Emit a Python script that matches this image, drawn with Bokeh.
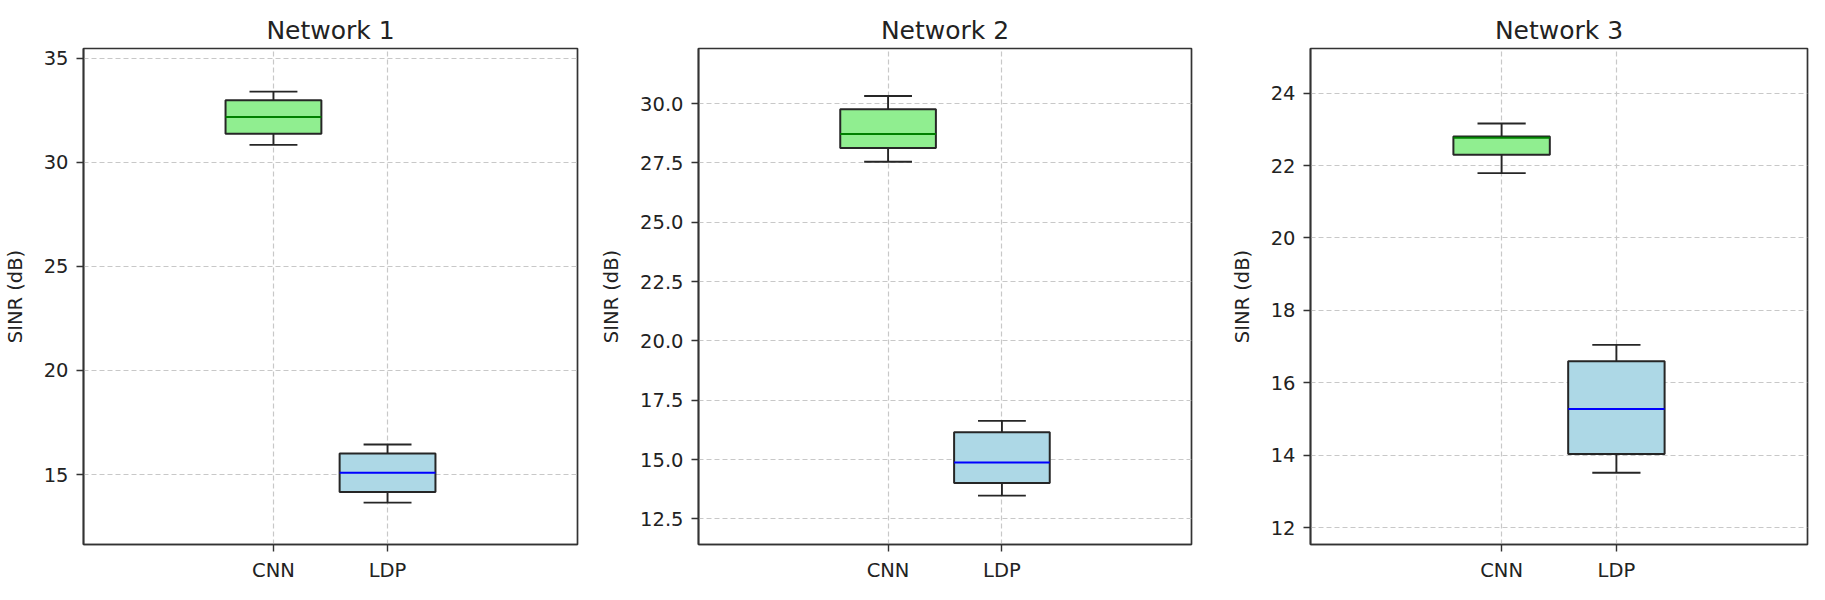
from bokeh.plotting import figure
from bokeh.layouts import row
from bokeh.models import ColumnDataSource, FixedTicker, PrintfTickFormatter, Range1d
from bokeh.embed import file_html
from bokeh.resources import INLINE

# ---------------- data ----------------
categories = ["CNN", "LDP"]
titles = ["Network 1", "Network 2", "Network 3"]

# five-number summaries per network: [CNN, LDP]
net1_lower = [30.83, 13.65]
net1_q1 = [31.36, 14.16]
net1_median = [32.17, 15.09]
net1_q3 = [32.97, 16.01]
net1_upper = [33.39, 16.44]

net2_lower = [27.55, 13.48]
net2_q1 = [28.13, 14.01]
net2_median = [28.72, 14.87]
net2_q3 = [29.76, 16.15]
net2_upper = [30.32, 16.63]

net3_lower = [21.79, 13.52]
net3_q1 = [22.30, 14.04]
net3_median = [22.77, 15.28]
net3_q3 = [22.80, 16.60]
net3_upper = [23.16, 17.05]

y_ticks_1 = [15, 20, 25, 30, 35]
y_ticks_2 = [12.5, 15.0, 17.5, 20.0, 22.5, 25.0, 27.5, 30.0]
y_ticks_3 = [12, 14, 16, 18, 20, 22, 24]

y_range_1 = (11.64, 35.46)
y_range_2 = (11.42, 32.32)
y_range_3 = (11.54, 25.23)

# ---------------- style ----------------
FONT = "DejaVu Sans"
TXT = "#222222"
BOX_FILL = ["#90EE90", "#ADD8E6"]
MED_COL = ["#008000", "#0000FF"]
EDGE = "#262626"
BOX_W = 0.84
positions = [1, 2]

panels = [
    (titles[0], net1_lower, net1_q1, net1_median, net1_q3, net1_upper, y_ticks_1, y_range_1, "%d"),
    (titles[1], net2_lower, net2_q1, net2_median, net2_q3, net2_upper, y_ticks_2, y_range_2, "%.1f"),
    (titles[2], net3_lower, net3_q1, net3_median, net3_q3, net3_upper, y_ticks_3, y_range_3, "%d"),
]

borders = [(80, 20), (97, 20), (99, 2)]
FRAME_W = 497
FRAME_H = 500
TOP = 48
BOTTOM = 36

figs = []
for i, (title, lo, q1, med, q3, up, yt, yr, fmt) in enumerate(panels):
    bl, br = borders[i]
    p = figure(
        width=bl + FRAME_W + br,
        height=TOP + FRAME_H + BOTTOM,
        x_range=Range1d(-0.665, 3.665),
        y_range=Range1d(*yr),
        output_backend="svg",
        toolbar_location=None,
        min_border_left=bl,
        min_border_right=br,
        min_border_top=TOP,
        min_border_bottom=BOTTOM,
        title=title,
    )
    p.title.text_font = FONT
    p.title.text_font_size = "25px"
    p.title.text_font_style = "normal"
    p.title.text_color = TXT
    p.title.align = "center"
    p.title.standoff = 7

    p.outline_line_color = "#333333"
    p.outline_line_width = 1.7
    p.background_fill_color = "white"
    p.border_fill_color = "white"

    # axes
    p.xaxis.ticker = FixedTicker(ticks=positions)
    p.xaxis.major_label_overrides = {pos: c for pos, c in zip(positions, categories)}
    p.yaxis.ticker = FixedTicker(ticks=yt)
    p.yaxis.formatter = PrintfTickFormatter(format=fmt)
    p.yaxis.axis_label = "SINR (dB)"
    for ax in (p.xaxis[0], p.yaxis[0]):
        ax.axis_line_color = "#333333"
        ax.axis_line_width = 1.7
        ax.major_tick_line_color = "#333333"
        ax.major_tick_line_width = 1.4
        ax.major_tick_out = 7
        ax.major_tick_in = 0
        ax.minor_tick_line_color = None
        ax.major_label_text_font = FONT
        ax.major_label_text_font_size = "19.5px"
        ax.major_label_text_color = TXT
        ax.axis_label_text_font = FONT
        ax.axis_label_text_font_size = "19.5px"
        ax.axis_label_text_font_style = "normal"
        ax.axis_label_text_color = TXT
    p.xaxis.major_label_standoff = 7
    p.yaxis.major_label_standoff = 8
    p.yaxis.axis_label_standoff = 14

    # grid
    p.xgrid.ticker = FixedTicker(ticks=positions)
    p.ygrid.ticker = FixedTicker(ticks=yt)
    for g in (p.xgrid[0], p.ygrid[0]):
        g.grid_line_color = "#c8c8c8"
        g.grid_line_width = 1.2
        g.grid_line_dash = "5 3"

    half = BOX_W / 2
    src = ColumnDataSource(dict(
        x=positions,
        x0=[x - half for x in positions],
        x1=[x + half for x in positions],
        c0=[x - half / 2 for x in positions],
        c1=[x + half / 2 for x in positions],
        lower=lo, q1=q1, med=med, q3=q3, upper=up,
        fill=BOX_FILL, medc=MED_COL,
    ))

    # whiskers
    p.segment(x0="x", x1="x", y0="q3", y1="upper", source=src, line_color=EDGE, line_width=1.9)
    p.segment(x0="x", x1="x", y0="q1", y1="lower", source=src, line_color=EDGE, line_width=1.9)
    # caps
    p.segment(x0="c0", x1="c1", y0="upper", y1="upper", source=src, line_color=EDGE, line_width=1.9)
    p.segment(x0="c0", x1="c1", y0="lower", y1="lower", source=src, line_color=EDGE, line_width=1.9)
    # boxes
    p.vbar(x="x", width=BOX_W, bottom="q1", top="q3", source=src,
           fill_color="fill", line_color=EDGE, line_width=2)
    # medians
    p.segment(x0="x0", x1="x1", y0="med", y1="med", source=src, line_color="medc", line_width=2)

    figs.append(p)

layout = row(*figs, spacing=0)
open("out.html", "w").write(file_html(layout, INLINE))
